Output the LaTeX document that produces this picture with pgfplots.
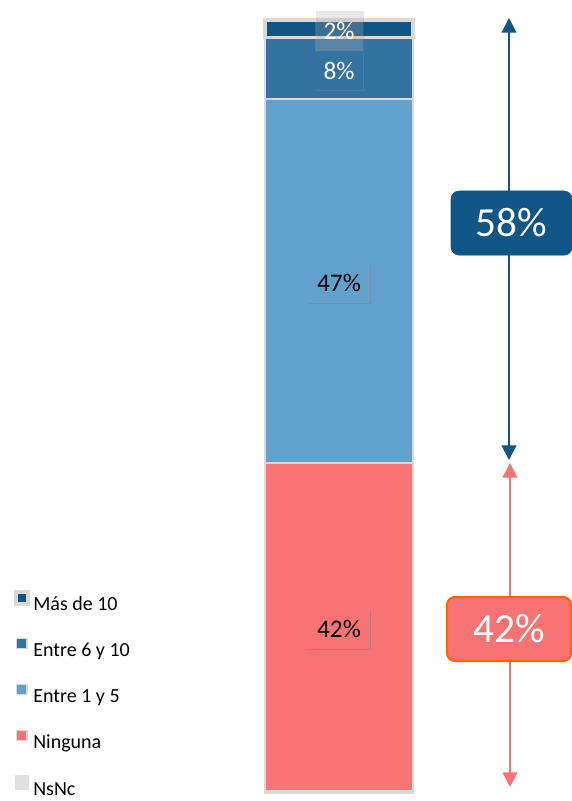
\documentclass[border=0pt]{standalone}
\usepackage{pgfplots}
\pgfplotsset{compat=1.18}
\usepackage{fontspec}
\setmainfont{Carlito}
\usetikzlibrary{arrows.meta,shadows}
\definecolor{cMas}{HTML}{0F5585}
\definecolor{cSeis}{HTML}{3372A1}
\definecolor{cUno}{HTML}{62A1CC}
\definecolor{cNin}{HTML}{F87373}
\definecolor{cNs}{HTML}{E0E0E0}
\definecolor{cBorder}{HTML}{D9D9D9}
\definecolor{cOrange}{HTML}{FF6600}
\begin{document}
\begin{tikzpicture}[x=0.75pt,y=0.75pt]
\path[use as bounding box] (0,0) rectangle (572,801);
\begin{axis}[
  at={(198.75pt,6pt)}, anchor=south west,
  width=111pt, height=579.75pt, scale only axis,
  hide axis, clip=false,
  ybar stacked, bar width=1,
  xmin=0.5, xmax=1.5, ymin=0, ymax=100,
  reverse legend,
  legend cell align=left,
  legend style={at={(-1.696,0.2630)}, anchor=north west, draw=none, fill=none,
    inner sep=0pt, outer sep=0pt, row sep=19.6pt, column sep=2.5pt,
    nodes={font=\fontsize{15pt}{17pt}\selectfont, text height=11pt, text depth=1pt, inner sep=0pt}},
  legend image code/.code={\draw[#1,draw=cBorder,line width=0.8pt] (0pt,0.5pt) rectangle (8pt,8.5pt);},
]
\addplot[fill=cNs, draw=cBorder, line width=1.5pt,
  legend image code/.code={\fill[cNs] (0pt,0pt) rectangle (8.5pt,9pt);}] coordinates {(1,0.3)};
\addlegendentry{NsNc}
\addplot[fill=cNin, draw=cBorder, line width=1.5pt] coordinates {(1,42.4)};
\addlegendentry{Ninguna}
\addplot[fill=cUno, draw=cBorder, line width=1.5pt] coordinates {(1,47.1)};
\addlegendentry{Entre 1 y 5}
\addplot[fill=cSeis, draw=cBorder, line width=1.5pt] coordinates {(1,7.9)};
\addlegendentry{Entre 6 y 10}
\addplot[fill=cMas, draw=cBorder, line width=2.5pt,
  legend image code/.code={\fill[cBorder] (-0.5pt,-0.5pt) rectangle (9pt,9pt); \fill[cMas] (2.5pt,2.5pt) rectangle (6pt,6pt);}] coordinates {(1,2.3)};
\addlegendentry{Más de 10}

\coordinate (lNin) at (axis cs:1,21.2);
\coordinate (lUno) at (axis cs:1,65.95);
\coordinate (lSeis) at (axis cs:1,93.45);
\coordinate (lMas) at (axis cs:1,98.6);
\end{axis}
% data labels
\node[fill=cNin, minimum width=46.5pt, minimum height=30pt, inner sep=0pt,
  drop shadow={opacity=0.45, shadow xshift=0.8pt, shadow yshift=-0.8pt},
  font=\fontsize{19pt}{21pt}\selectfont, text=black] at (lNin) {42\%};
\node[fill=cUno, minimum width=46.5pt, minimum height=30pt, inner sep=0pt,
  drop shadow={opacity=0.45, shadow xshift=0.8pt, shadow yshift=-0.8pt},
  font=\fontsize{19pt}{21pt}\selectfont, text=black] at (lUno) {47\%};
\node[fill=cSeis, minimum width=36pt, minimum height=29pt, inner sep=0pt,
  drop shadow={opacity=0.45, shadow xshift=0.8pt, shadow yshift=-0.8pt},
  font=\fontsize{19pt}{21pt}\selectfont, text=white] at (lSeis) {8\%};
\node[fill=white, fill opacity=0.12, text opacity=1, minimum width=36pt, minimum height=31pt, inner sep=0pt,
  drop shadow={opacity=0.2, shadow xshift=0.8pt, shadow yshift=-0.8pt},
  font=\fontsize{19pt}{21pt}\selectfont, text=white] at (lMas) {2\%};
% annotations
\draw[cMas, line width=1.6pt, {Triangle[width=11pt,length=11pt]}-{Triangle[width=11pt,length=11pt]}] (509,341) -- (509,783);
\draw[cNin, line width=1.6pt, {Triangle[width=11pt,length=11pt]}-{Triangle[width=11pt,length=11pt]}] (510,14) -- (510,338);
\filldraw[fill=cMas, draw=cMas, rounded corners=6pt,
  drop shadow={opacity=0.3, shadow xshift=0.8pt, shadow yshift=-0.8pt}] (451,546) rectangle (572,610);
\node[text=white, font=\fontsize{31pt}{33pt}\selectfont] at (511.5,578) {58\%};
\filldraw[fill=cNin, draw=cOrange, line width=1.6pt, rounded corners=6pt,
  drop shadow={opacity=0.3, shadow xshift=0.8pt, shadow yshift=-0.8pt}] (447,140) rectangle (571,204);
\node[text=white, font=\fontsize{31pt}{33pt}\selectfont] at (509,172) {42\%};
\end{tikzpicture}
\end{document}
